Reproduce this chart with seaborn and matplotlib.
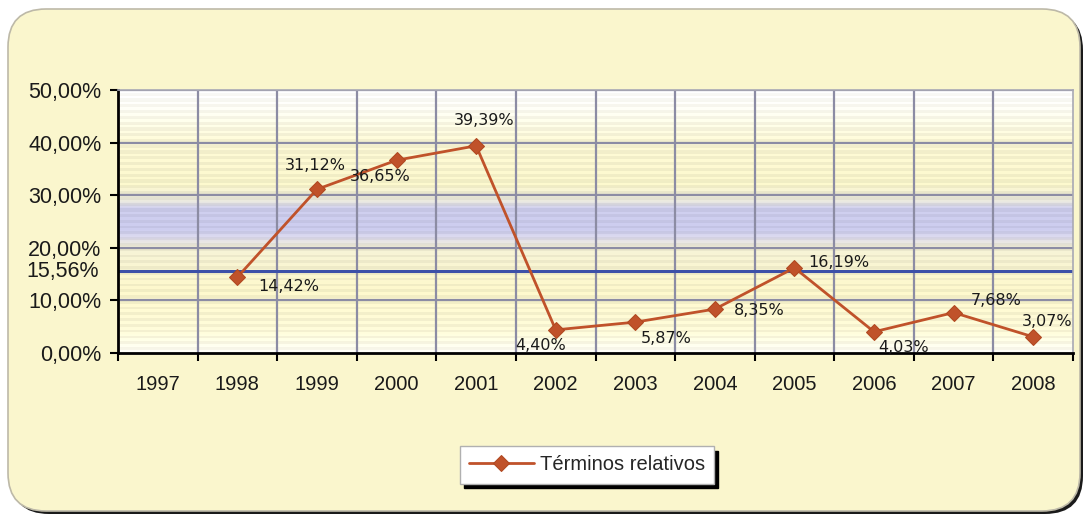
import numpy as np
import pandas as pd
import matplotlib
matplotlib.use("Agg")
import matplotlib.pyplot as plt
import seaborn as sns
from matplotlib.patches import FancyBboxPatch
from matplotlib.colors import to_rgb
from matplotlib.ticker import FixedLocator

# Data: relative yearly values (%)
years = ["1997", "1998", "1999", "2000", "2001", "2002", "2003",
         "2004", "2005", "2006", "2007", "2008"]
values = [np.nan, 14.42, 31.12, 36.65, 39.39, 4.40, 5.87,
          8.35, 16.19, 4.03, 7.68, 3.07]
series_name = "Términos relativos"
y_ticks = [0, 10, 20, 30, 40, 50]

df = pd.DataFrame({"year": years, "value": values})
df["pos"] = np.arange(len(years))
mean_value = np.nanmean(values)


def pct(v):
    return f"{v:.2f}%".replace(".", ",")


sns.set_theme(style="white")
plt.rcParams["font.family"] = ["Liberation Sans", "DejaVu Sans"]

fig = plt.figure(figsize=(10.87, 5.18), dpi=100)
fig.patch.set_facecolor("white")

W, H = 1087, 518
# Rounded panel with a dark shadow behind it
shadow = FancyBboxPatch((11 / W, 4 / H), 1072 / W, 502 / H,
                        boxstyle="round,pad=0,rounding_size=0.035",
                        transform=fig.transFigure, facecolor="#1a1a1a",
                        edgecolor="none", zorder=0, mutation_aspect=W / H)
panel = FancyBboxPatch((8 / W, 7 / H), 1072 / W, 502 / H,
                       boxstyle="round,pad=0,rounding_size=0.035",
                       transform=fig.transFigure, facecolor="#faf6cd",
                       edgecolor="#bdb9a8", linewidth=1.2, zorder=0.1,
                       mutation_aspect=W / H)
fig.patches.extend([shadow, panel])

ax = fig.add_axes([118 / W, 1 - 353 / H, (1073 - 118) / W, (353 - 90) / H])
ax.set_zorder(1)

# Striped gradient fill of the plotting area
ny = 500
yy = np.linspace(0, 50, ny)
stops = [(0, "#fffef5"), (4, "#fbf7d6"), (12, "#f8f3c8"), (20, "#f1eed2"),
         (22, "#d8d6ea"), (23.5, "#c8c8ea"), (27.5, "#cbcbea"),
         (29, "#e8e6da"), (32, "#f7f3c9"), (40, "#f9f5d2"),
         (46, "#fdfcf0"), (50, "#ffffff")]
sp = np.array([s[0] for s in stops], float)
cols = np.array([to_rgb(s[1]) for s in stops])
img = np.stack([np.interp(yy, sp, cols[:, k]) for k in range(3)], axis=-1)
stripe = 1 + 0.025 * np.sign(np.sin(yy * 2 * np.pi / 1.1))
img = np.clip(img * stripe[:, None], 0, 1)
ax.imshow(img[:, None, :], aspect="auto", origin="lower",
          extent=(-0.5, len(years) - 0.5, 0, 50), zorder=0,
          interpolation="nearest")

# Gridlines
grid_col = "#8c8ca4"
for v in y_ticks[1:]:
    ax.axhline(v, color=grid_col, lw=1.6, zorder=1)
for b in np.arange(0.5, len(years) - 0.5, 1):
    ax.axvline(b, color=grid_col, lw=1.6, zorder=1)

# Average line
ax.axhline(mean_value, color="#3c50a8", lw=2.2, zorder=2)

line_col = "#c0522a"
sns.lineplot(data=df, x="pos", y="value", ax=ax, color=line_col, lw=2,
             marker="D", markersize=8, markeredgecolor="#b04820",
             label=series_name, zorder=3)

# Data labels (offsets in points)
offsets = {1: (15, -7), 2: (-23, 17), 3: (-34, -12), 4: (-16, 18),
           5: (-29, -11), 6: (4, -12), 7: (14, -1), 8: (10, 4),
           9: (3, -11), 10: (12, 9), 11: (-8, 11)}
for i, v in enumerate(values):
    if np.isnan(v):
        continue
    dx, dy = offsets[i]
    ax.annotate(pct(v), (i, v), xytext=(dx, dy),
                textcoords="offset points", fontsize=11.5,
                family=["DejaVu Sans"], color="#1a1a1a", va="center",
                ha="left", zorder=4)

ax.set_xlim(-0.5, len(years) - 0.5)
ax.set_ylim(0, 50)
ax.set_xticks(df["pos"])
ax.set_xticklabels(years, fontsize=14.5)
ax.xaxis.set_minor_locator(FixedLocator(np.arange(-0.5, len(years), 1)))
ax.tick_params(axis="x", which="major", length=0, pad=16, colors="#1a1a1a")
ax.tick_params(axis="x", which="minor", length=6, width=1.5,
               direction="out", color="black", bottom=True)
ax.set_yticks(y_ticks)
ax.set_yticklabels([pct(t) for t in y_ticks], fontsize=15.5)
ax.tick_params(axis="y", length=6, width=1.5, direction="out",
               color="black", left=True, pad=6, labelcolor="#1a1a1a")
ax.annotate(pct(mean_value), (0, mean_value),
            xycoords=("axes fraction", "data"), xytext=(-14, 0),
            textcoords="offset points", ha="right", va="center",
            fontsize=15.5, color="#1a1a1a", annotation_clip=False)
ax.set_xlabel("")
ax.set_ylabel("")

for s in ["left", "bottom"]:
    ax.spines[s].set_color("black")
    ax.spines[s].set_linewidth(2)
for s in ["top", "right"]:
    ax.spines[s].set_color("#a8a8b4")
    ax.spines[s].set_linewidth(1.2)

leg = ax.legend(loc="center", bbox_to_anchor=(587 / W, 1 - 465 / H),
                bbox_transform=fig.transFigure, fontsize=14.5,
                frameon=True, fancybox=False,
                shadow={"color": "black", "alpha": 1, "ox": 3, "oy": -3},
                handlelength=3.2, handletextpad=0.3, borderpad=0.45)
leg.get_frame().set_facecolor("white")
leg.get_frame().set_edgecolor("#b0b0b0")
leg.get_frame().set_alpha(1)

fig.savefig("out.png", dpi=100, facecolor=fig.get_facecolor())
